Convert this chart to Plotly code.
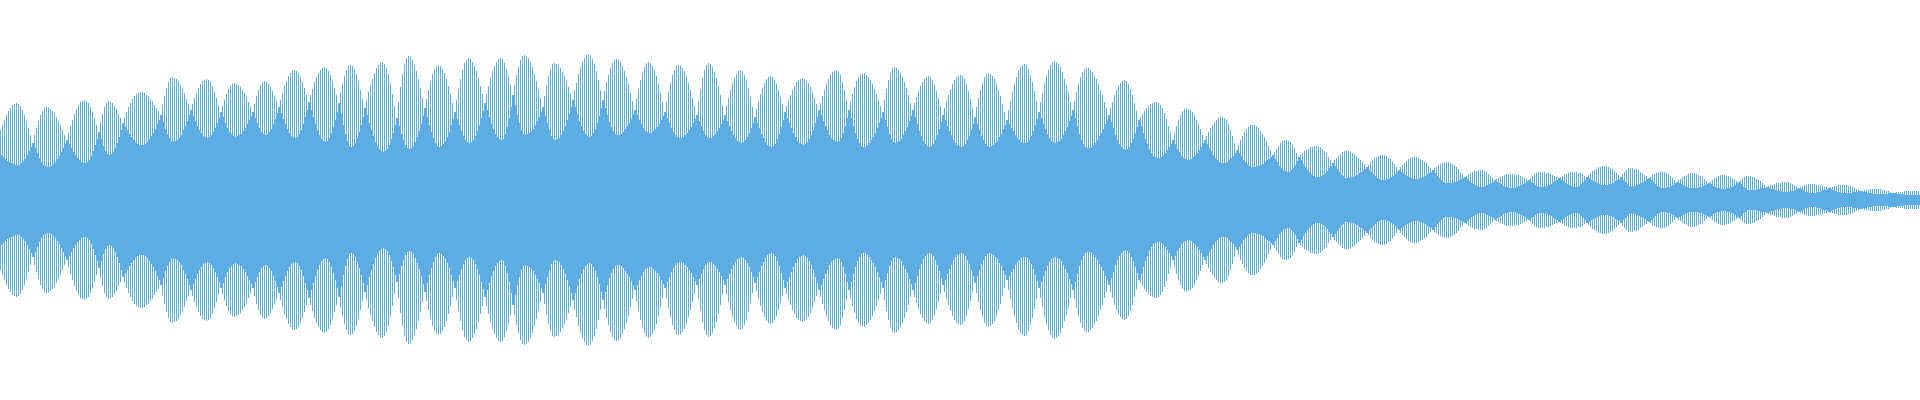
import plotly.graph_objects as go

# Peak amplitude (pixels from the centre line) of the even columns ("tall" comb teeth)
tall = [
    70,75,80,85,89,92,95,96,97,96,94,90,85,79,72,65,
    57,65,72,79,85,89,92,93,93,91,89,87,83,79,75,70,65,
    60,67,74,80,86,91,95,98,99,100,99,97,93,88,82,75,
    68,78,86,93,97,99,98,97,94,91,86,82,
    77,82,88,93,97,101,104,106,107,108,108,107,105,104,101,99,95,92,89,
    85,95,104,112,118,122,123,122,121,119,115,111,107,101,96,
    90,96,102,107,112,116,119,120,121,120,118,114,108,102,95,
    88,94,100,106,111,114,116,117,116,115,113,110,107,103,98,93,
    88,96,104,110,115,118,119,118,116,113,109,104,99,
    93,100,107,114,119,124,127,129,130,129,127,123,118,112,105,
    98,105,111,118,123,127,130,132,133,132,129,125,119,112,105,
    97,107,116,124,130,134,135,134,131,126,119,110,101,
    92,100,108,115,121,127,132,135,137,138,136,132,126,117,106,94,
    82,98,113,126,136,142,144,143,140,135,129,121,112,102,
    92,101,110,119,126,131,134,135,134,131,127,121,114,106,97,
    88,100,111,121,130,137,140,142,141,138,134,129,122,114,106,
    97,106,114,122,129,134,138,141,142,141,137,131,124,115,
    105,115,125,133,140,144,145,144,142,138,133,126,119,111,102,
    93,104,115,124,131,136,137,136,135,132,128,124,119,113,106,
    100,109,117,126,133,138,142,145,146,145,141,136,129,120,110,
    100,109,118,125,132,137,140,141,140,138,134,129,123,116,107,99,
    90,101,111,120,127,133,137,138,137,134,130,124,116,107,98,
    88,98,108,117,125,130,134,135,134,132,129,124,117,110,102,94,
    85,99,111,122,130,135,137,136,133,128,122,114,105,95,
    85,94,102,110,117,122,126,129,130,129,125,120,112,103,93,
    83,91,99,106,112,117,121,123,124,123,120,116,110,103,96,
    88,94,100,105,110,114,118,120,121,122,121,119,117,113,108,102,96,
    90,97,104,110,116,121,125,128,129,130,129,125,118,110,100,
    90,98,106,113,119,123,126,127,127,125,123,120,116,111,106,100,94,
    88,100,111,120,127,132,133,132,130,127,123,118,112,105,97,
    90,97,103,109,114,118,121,123,124,123,120,115,109,102,94,
    85,92,99,105,111,116,120,123,124,125,124,121,116,109,101,92,
    83,93,102,110,117,123,126,127,126,124,121,116,110,104,96,88,
    80,90,99,108,116,123,129,133,135,136,135,131,125,118,109,99,
    88,98,107,117,124,130,135,138,139,138,136,133,128,121,115,107,98,
    90,99,108,116,123,128,131,132,132,130,128,124,121,116,110,105,98,92,
    85,92,98,105,110,114,117,119,120,119,116,111,105,97,89,
    80,83,86,89,92,94,96,97,98,98,97,95,92,87,81,74,68,
    60,67,74,80,85,89,91,92,91,90,88,85,80,76,71,65,
    60,64,68,72,75,78,80,82,83,83,82,80,76,70,64,57,
    50,55,60,64,68,71,73,75,75,75,74,72,69,66,63,59,54,50,
    45,48,51,54,57,59,60,60,59,58,55,52,47,
    43,45,47,49,50,51,53,53,54,54,54,53,51,49,47,43,40,
    37,40,42,44,46,48,49,49,49,48,47,46,44,42,40,38,36,
    33,35,38,40,42,43,44,45,45,45,44,42,41,38,36,33,
    30,33,35,37,39,41,42,43,43,43,42,41,40,38,37,34,32,
    30,32,33,35,36,37,38,38,38,37,36,35,33,31,28,26,
    23,24,26,27,28,29,29,30,30,30,29,28,26,24,22,
    20,21,22,23,24,25,26,26,26,26,26,25,25,24,23,22,21,
    20,22,24,26,27,28,28,28,28,27,27,26,25,24,23,
    22,23,24,25,26,27,28,28,28,28,27,27,26,24,
    23,25,27,29,30,31,33,33,34,34,34,33,32,31,29,27,25,
    23,26,28,30,32,32,32,31,31,30,28,27,25,24,
    22,23,25,26,27,27,28,28,28,27,26,24,22,20,
    18,20,21,23,24,25,26,27,27,27,26,25,24,23,21,19,
    17,19,20,22,23,24,25,25,25,24,24,23,22,21,19,
    18,20,22,23,24,24,24,23,23,21,20,19,17,15,
    13,14,15,15,16,17,17,17,18,18,18,18,17,16,15,14,
    12,13,14,15,15,16,16,16,16,15,15,15,14,13,13,
    12,13,13,14,14,15,15,15,15,15,14,14,13,12,11,10,
    9,9,10,10,10,11,11,11,11,11,11,10,10,9,9,8,
    7,7,8,8,8,8,9,9,9,9,9,9,9,9,
]

# Peak amplitude of the odd columns ("short" teeth between them)
short = [
    45,43,41,39,38,37,36,35,35,35,37,39,41,45,49,53,
    57,52,47,42,38,35,34,33,33,34,36,38,41,44,48,52,56,
    60,56,52,48,45,42,40,38,37,37,38,40,44,49,55,61,
    68,61,54,49,46,45,46,48,52,57,63,70,
    77,73,70,66,63,60,58,56,55,55,55,56,58,61,64,67,71,76,80,
    85,78,71,66,62,59,58,59,60,62,65,70,74,79,85,
    90,84,79,74,70,67,64,63,62,63,65,68,72,77,82,
    88,83,77,72,68,66,64,63,64,65,66,69,72,76,80,84,
    88,82,77,72,68,66,65,66,68,71,76,81,87,
    93,87,81,76,71,67,64,63,62,63,66,70,76,83,90,
    98,90,83,76,70,65,61,59,58,59,62,67,73,80,88,
    97,86,75,66,59,54,53,54,57,62,68,75,83,
    92,85,77,70,64,58,54,51,49,48,49,51,55,61,67,75,
    82,74,66,60,55,52,51,52,54,58,63,69,76,84,
    92,83,75,68,62,57,54,53,54,56,59,63,68,75,81,
    88,81,75,69,64,60,58,57,58,60,64,69,75,82,89,
    97,90,83,76,71,66,63,61,60,61,66,73,82,93,
    105,95,85,77,70,66,65,66,67,69,71,75,79,83,88,
    93,84,77,70,64,61,60,61,62,65,69,74,80,86,93,
    100,93,86,79,74,69,66,64,63,64,67,71,77,84,92,
    100,92,85,78,73,69,66,65,65,66,68,71,74,77,81,86,
    90,85,80,76,72,69,68,67,67,69,71,73,76,80,84,
    88,82,77,72,68,65,63,62,62,63,65,67,70,73,77,81,
    85,79,74,69,65,63,62,62,64,66,69,72,76,80,
    85,79,74,69,65,62,59,58,57,58,60,63,67,72,77,
    83,77,72,66,62,58,55,54,53,54,56,61,66,73,80,
    88,82,77,72,67,63,59,57,56,55,56,58,61,65,70,77,83,
    90,85,79,74,70,65,62,60,59,58,59,62,67,74,82,
    90,82,74,67,61,57,54,53,53,55,57,60,63,67,72,77,82,
    88,80,73,66,61,58,57,58,59,61,65,69,73,79,84,
    90,83,76,69,64,59,56,54,53,54,56,60,65,71,78,
    85,80,74,69,65,60,57,55,54,53,54,56,60,64,70,76,
    83,76,70,64,60,56,54,53,54,55,57,59,63,66,71,75,
    80,76,72,69,65,62,60,58,57,57,58,60,64,69,75,81,
    88,82,76,71,66,62,59,58,57,58,59,61,65,69,73,79,84,
    90,82,74,66,60,56,53,52,52,53,55,57,60,64,67,71,76,80,
    85,78,72,65,60,56,53,51,50,51,53,57,61,67,73,
    80,74,67,61,56,51,47,44,43,42,42,43,45,47,50,53,56,
    60,56,51,48,44,42,41,40,40,41,43,45,47,50,53,57,
    60,56,52,49,45,42,40,38,37,37,37,38,40,42,44,47,
    50,47,44,40,38,36,34,33,33,33,34,34,35,36,38,40,41,43,
    45,41,38,34,32,30,29,28,28,30,32,35,39,
    43,40,36,33,30,28,26,24,23,23,23,24,25,27,29,32,34,
    37,34,31,28,25,24,22,22,22,23,23,24,25,27,28,30,31,
    33,30,28,26,24,22,21,20,20,20,21,22,23,24,26,28,
    30,28,27,25,24,23,22,21,21,21,22,22,23,24,26,27,28,
    30,27,24,22,20,18,17,17,17,17,18,18,19,20,21,22,
    23,21,19,17,16,15,14,13,13,13,14,15,16,17,18,
    20,18,17,16,14,13,13,12,12,12,12,13,14,15,16,17,19,
    20,18,17,15,14,13,13,13,14,14,15,16,18,19,20,
    22,20,19,17,16,15,14,13,13,13,14,16,18,20,
    23,22,20,19,18,17,16,15,15,15,15,16,16,17,19,20,21,
    23,20,18,16,14,14,14,14,15,16,17,18,19,21,
    22,20,18,16,14,13,12,12,12,13,13,14,15,17,
    18,17,16,15,14,13,12,12,12,12,12,13,13,14,15,16,
    17,16,14,13,12,12,11,11,11,12,12,13,14,15,17,
    18,16,13,12,10,10,10,10,10,11,11,12,12,12,
    13,12,11,11,10,9,9,9,8,8,8,8,9,9,10,11,
    12,11,10,8,8,7,7,7,7,8,8,9,10,10,11,
    12,11,10,9,8,8,7,7,7,7,7,7,8,8,8,9,
    9,8,8,7,7,7,6,6,6,6,6,6,6,6,7,7,
    7,7,6,6,6,6,5,5,5,5,5,5,5,5,
]

BAR_COLOR = "rgba(93,173,226,0.999)"

# interleave: even column = tall tooth, odd column = short tooth
amp = []
for t, s in zip(tall, short):
    amp.append(t)
    amp.append(s)

x = list(range(len(amp)))
base = [-a for a in amp]
span = [2 * a for a in amp]

fig = go.Figure(
    go.Bar(
        x=x,
        y=span,
        base=base,
        width=1,
        marker=dict(color=BAR_COLOR, line=dict(width=0)),
        hoverinfo="skip",
    )
)

fig.update_layout(
    width=1920,
    height=400,
    margin=dict(l=0, r=0, t=0, b=0),
    bargap=0,
    showlegend=False,
    plot_bgcolor="white",
    paper_bgcolor="white",
    xaxis=dict(visible=False, range=[-0.5, len(amp) - 0.5], fixedrange=True),
    yaxis=dict(visible=False, range=[-200, 200], fixedrange=True),
)

fig.write_html(
    "out.html",
    config={"displayModeBar": False},
    post_script="document.body.style.margin='0';document.body.style.overflow='hidden';",
)
